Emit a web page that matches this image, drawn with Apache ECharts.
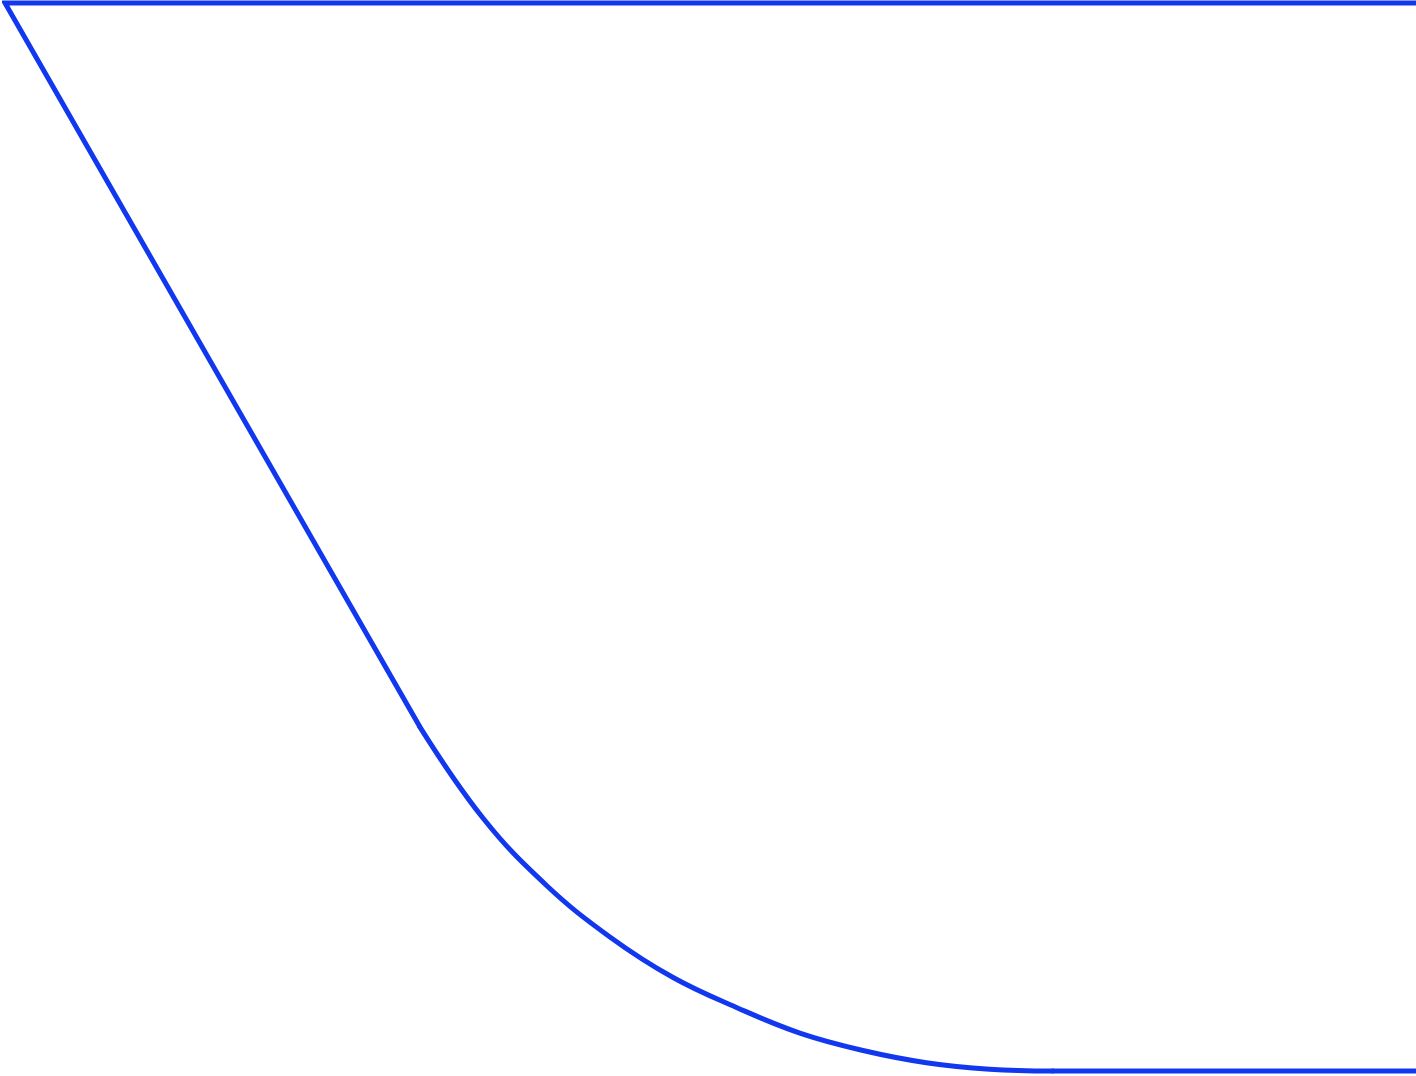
<!DOCTYPE html>
<html>
<head>
    <meta charset="utf-8">
    <title>ECharts</title>
    <script src="https://cdnjs.cloudflare.com/ajax/libs/echarts/6.0.0/echarts.min.js"></script>
    <style>
        html, body { margin: 0; padding: 0; background: #fff; }
    </style>
</head>
<body>
    <div id="main" style="width: 1416px;height:1076px;"></div>
    <script type="text/javascript">
        // outline, x and y in percent of the axis range
        // straight part: top edge and the falling side
        var edgeX = [100, 0, 29.41];
        var edgeY = [100, 100, 32.2];
        // curved part
        var curveX = [29.41, 33.9, 38.38, 42.87, 47.35, 51.84, 56.33, 60.81, 65.3, 69.78, 74.27];
        var curveY = [32.2, 23.64, 17.37, 12.55, 8.75, 5.95, 3.55, 1.92, 0.78, 0.17, 0];
        // flat bottom
        var baseX = [74.27, 100];
        var baseY = [0, 0];

        function pairs(xs, ys) {
            var out = [];
            for (var i = 0; i < xs.length; i++) {
                out.push([xs[i], ys[i]]);
            }
            return out;
        }

        var lineStyle = { color: '#1238ef', width: 5, join: 'round', cap: 'round' };

        var myChart = echarts.init(document.getElementById('main'));
        var option = {
            animation: false,
            grid: { left: 5, right: 0, top: 3, bottom: 5 },
            xAxis: { type: 'value', min: 0, max: 100, show: false },
            yAxis: { type: 'value', min: 0, max: 100, show: false },
            series: [
                { type: 'line', data: pairs(edgeX, edgeY), symbol: 'none', clip: false,
                  lineStyle: { color: '#1238ef', width: 5, join: 'miter', cap: 'butt' } },
                { type: 'line', data: pairs(curveX, curveY), symbol: 'none', clip: false,
                  smooth: 0.4, lineStyle: lineStyle },
                { type: 'line', data: pairs(baseX, baseY), symbol: 'none', clip: false,
                  lineStyle: lineStyle }
            ]
        };
        myChart.setOption(option);
    </script>
</body>
</html>
